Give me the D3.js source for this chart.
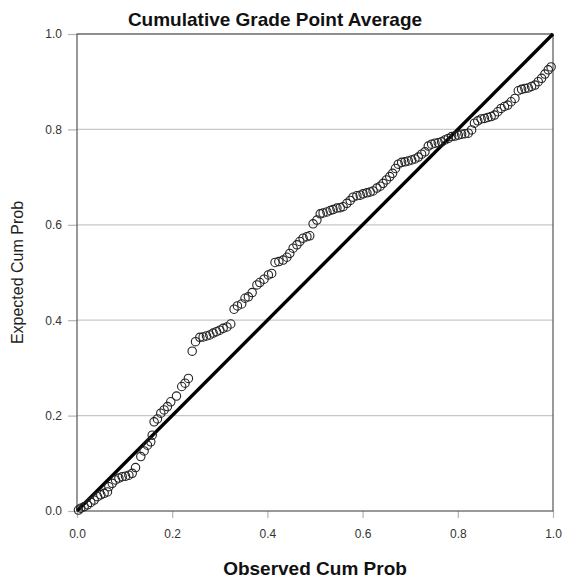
<!DOCTYPE html>
<html lang="en">
  <head>
    <meta charset="UTF-8" />
    <title>P-P plot</title>
    <style>
      body { margin: 0; background: #fff; }
      text { font-family: Arial, "Liberation Sans", sans-serif; }
    </style>
  </head>
  <body>
    <script src="https://d3js.org/d3.v7.min.js"></script>
    <script>

// observed cumulative probability (x) and expected cumulative probability (y)
var observed = [
  0.003, 0.008, 0.015, 0.022, 0.029, 0.036, 0.043, 0.050, 0.057, 0.064,
  0.067, 0.074, 0.081, 0.088, 0.095, 0.102, 0.109, 0.116, 0.123, 0.134,
  0.141, 0.148, 0.155, 0.158, 0.162, 0.169, 0.176, 0.183, 0.190, 0.197,
  0.209, 0.220, 0.227, 0.234, 0.242, 0.249, 0.258, 0.265, 0.272, 0.279,
  0.286, 0.293, 0.300, 0.307, 0.315, 0.323, 0.330, 0.337, 0.346, 0.353,
  0.360, 0.368, 0.378, 0.384, 0.393, 0.402, 0.409, 0.416, 0.424, 0.433,
  0.441, 0.447, 0.454, 0.462, 0.468, 0.475, 0.483, 0.489, 0.496, 0.504,
  0.511, 0.517, 0.525, 0.532, 0.538, 0.546, 0.553, 0.559, 0.567, 0.574,
  0.580, 0.588, 0.595, 0.601, 0.609, 0.616, 0.622, 0.630, 0.637, 0.643,
  0.650, 0.657, 0.663, 0.669, 0.675, 0.682, 0.689, 0.696, 0.703, 0.710,
  0.717, 0.724, 0.731, 0.738, 0.745, 0.752, 0.759, 0.766, 0.773, 0.780,
  0.787, 0.794, 0.801, 0.808, 0.815, 0.822, 0.829, 0.835, 0.842, 0.849,
  0.856, 0.863, 0.870, 0.877, 0.884, 0.891, 0.898, 0.905, 0.912, 0.920,
  0.927, 0.934, 0.941, 0.948, 0.955, 0.962, 0.969, 0.976, 0.983, 0.990,
  0.996
];
var expected = [
  0.002, 0.006, 0.009, 0.013, 0.018, 0.023, 0.030, 0.034, 0.037, 0.040,
  0.051, 0.058, 0.065, 0.069, 0.072, 0.073, 0.075, 0.079, 0.091, 0.114,
  0.126, 0.138, 0.145, 0.159, 0.187, 0.193, 0.205, 0.212, 0.219, 0.229,
  0.241, 0.261, 0.268, 0.278, 0.335, 0.355, 0.364, 0.365, 0.367, 0.369,
  0.373, 0.376, 0.379, 0.383, 0.386, 0.392, 0.423, 0.430, 0.434, 0.446,
  0.449, 0.458, 0.474, 0.479, 0.486, 0.495, 0.498, 0.521, 0.523, 0.526,
  0.532, 0.540, 0.551, 0.558, 0.565, 0.572, 0.575, 0.577, 0.602, 0.610,
  0.623, 0.625, 0.627, 0.630, 0.632, 0.635, 0.636, 0.638, 0.645, 0.651,
  0.658, 0.661, 0.662, 0.665, 0.667, 0.669, 0.671, 0.677, 0.681, 0.687,
  0.694, 0.701, 0.708, 0.718, 0.727, 0.731, 0.732, 0.734, 0.736, 0.738,
  0.742, 0.748, 0.753, 0.765, 0.769, 0.771, 0.772, 0.774, 0.778, 0.781,
  0.785, 0.786, 0.788, 0.790, 0.791, 0.792, 0.799, 0.813, 0.818, 0.822,
  0.823, 0.825, 0.827, 0.830, 0.837, 0.844, 0.848, 0.851, 0.858, 0.865,
  0.881, 0.884, 0.886, 0.887, 0.890, 0.893, 0.900, 0.907, 0.916, 0.925,
  0.931
];
var tickValues = [0, 0.2, 0.4, 0.6, 0.8, 1.0];
var diagonal = [[0, 0], [1, 1]];

var points = observed.map(function(d, i) { return { x: d, y: expected[i] }; });

var width = 564, height = 579;
var plotLeft = 77, plotRight = 553, plotTop = 34, plotBottom = 511;

var svg = d3.select("body").append("svg")
  .attr("width", width)
  .attr("height", height);

var x = d3.scaleLinear().domain([0, 1]).range([plotLeft, plotRight]);
var y = d3.scaleLinear().domain([0, 1]).range([plotBottom, plotTop]);

// gridlines
svg.append("g")
  .selectAll("line")
  .data(tickValues.filter(function(d) { return d > 0; }))
  .enter()
  .append("line")
  .attr("x1", plotLeft).attr("x2", plotRight)
  .attr("y1", function(d) { return y(d); })
  .attr("y2", function(d) { return y(d); })
  .attr("stroke", "#c8c8c8")
  .attr("stroke-width", 1.2);

// axes (ticks outside, labels)
var yAxis = svg.append("g")
  .attr("transform", "translate(" + plotLeft + ",0)")
  .call(d3.axisLeft(y).tickValues(tickValues).tickFormat(d3.format(".1f")).tickSize(9).tickPadding(6));
var xAxis = svg.append("g")
  .attr("transform", "translate(0," + plotBottom + ")")
  .call(d3.axisBottom(x).tickValues(tickValues).tickFormat(d3.format(".1f")).tickSize(7).tickPadding(11));

[xAxis, yAxis].forEach(function(g) {
  g.select(".domain").remove();
  g.selectAll(".tick line").attr("stroke", "#b4b4b4").attr("stroke-width", 1.2);
  g.selectAll(".tick text")
    .attr("fill", "#333")
    .style("font-size", "12px")
    .style("font-family", "Arial, 'Liberation Sans', sans-serif");
});

// frame
svg.append("rect")
  .attr("x", plotLeft).attr("y", plotTop)
  .attr("width", plotRight - plotLeft).attr("height", plotBottom - plotTop)
  .attr("fill", "none")
  .attr("stroke", "#555")
  .attr("stroke-width", 1.2);

// reference line
var line = d3.line()
  .x(function(d) { return x(d[0]); })
  .y(function(d) { return y(d[1]); });
svg.append("path")
  .datum(diagonal)
  .attr("d", line)
  .attr("stroke", "#000")
  .attr("stroke-width", 3.4)
  .attr("fill", "none");

// points
svg.append("g")
  .selectAll("circle")
  .data(points)
  .enter()
  .append("circle")
  .attr("cx", function(d) { return x(d.x); })
  .attr("cy", function(d) { return y(d.y); })
  .attr("r", 4.2)
  .attr("fill", "none")
  .attr("stroke", "#222")
  .attr("stroke-width", 1.1);

// titles
svg.append("text")
  .attr("x", 275).attr("y", 26)
  .attr("text-anchor", "middle")
  .style("font-size", "19px")
  .style("font-weight", "bold")
  .attr("fill", "#111")
  .text("Cumulative Grade Point Average");

svg.append("text")
  .attr("x", 315).attr("y", 575)
  .attr("text-anchor", "middle")
  .style("font-size", "19px")
  .style("font-weight", "bold")
  .attr("fill", "#111")
  .text("Observed Cum Prob");

svg.append("text")
  .attr("transform", "translate(23," + ((plotTop + plotBottom) / 2) + ") rotate(-90)")
  .attr("text-anchor", "middle")
  .style("font-size", "16px")
  .attr("fill", "#222")
  .text("Expected Cum Prob");

</script>
  </body>
</html>
